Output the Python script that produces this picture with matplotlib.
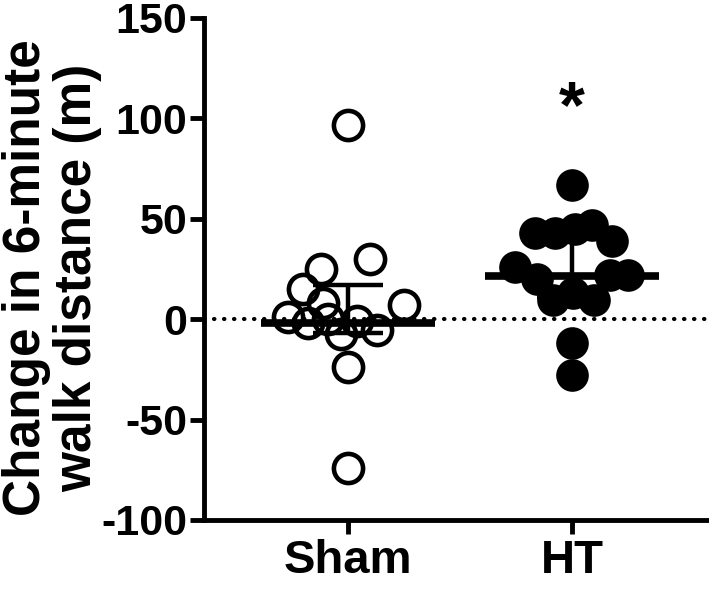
import numpy as np
import matplotlib
matplotlib.use('Agg')
import matplotlib.pyplot as plt

plt.rcParams['font.family'] = ['Liberation Sans', 'DejaVu Sans']
plt.rcParams['font.weight'] = 'bold'

groups = ['Sham', 'HT']

# values, with horizontal jitter (category units)
sham_vals = [96.6, 30, 25, 15, 8, 7, 1, -2, 0, -7.5, -1, -5.5, -24, -74]
sham_jit = [0, 0.10, -0.12, -0.20, -0.11, 0.25, -0.27, -0.18, -0.09, -0.03, 0.04, 0.13, 0, 0]

ht_vals = [67, 43, 43, 45, 47, 39, 26, 20, 22, 22, 9.5, 13, 9.5, -12, -28]
ht_jit = [0, -0.165, -0.075, 0.015, 0.09, 0.18, -0.255, -0.155, 0.17, 0.25, -0.085, 0.005, 0.10, 0, 0]

# median and interquartile range
medians = [-2, 21.5]
q1 = [-7, 11]
q3 = [17, 44]

yticks = [-100, -50, 0, 50, 100, 150]

fig = plt.figure(figsize=(7.09, 5.97), dpi=100)
ax = fig.add_axes([0.2877, 0.129, 0.7123, 0.8409])

ax.axhline(0, color='black', lw=3, ls=(0, (0.1, 2.3)), dash_capstyle='round', zorder=1)

ax.plot(np.zeros(len(sham_vals)) + sham_jit, sham_vals, 'o', ms=21, mew=3.3,
        mfc='none', mec='black', zorder=3)
ax.plot(np.ones(len(ht_vals)) + ht_jit, ht_vals, 'o', ms=23.5, mew=0,
        mfc='black', zorder=3)

for i in range(2):
    ax.hlines(medians[i], i - 0.39, i + 0.39, color='black', lw=5.5, zorder=4)
    ax.vlines(i, q1[i], q3[i], color='black', lw=3.2, zorder=4)
    ax.hlines([q1[i], q3[i]], i - 0.155, i + 0.155, color='black', lw=3.2, zorder=4)

ax.text(1, 104, '*', ha='center', va='center', fontsize=48, fontweight='bold')

ax.set_xlim(-0.643, 1.612)
ax.set_ylim(-100, 150)
ax.set_yticks(yticks)
ax.set_yticklabels([str(t) for t in yticks])
ax.set_xticks([0, 1])
ax.set_xticklabels(groups)

for s in ['top', 'right']:
    ax.spines[s].set_visible(False)
for s in ['left', 'bottom']:
    ax.spines[s].set_linewidth(3.5)

ax.tick_params(axis='y', length=10, width=3.5, labelsize=31, pad=2)
ax.tick_params(axis='x', length=10, width=3.5, labelsize=34, pad=4)

# y label placed by hand so it sits against the left edge like the original
fig.text(0.003, 0.535, 'Change in 6-minute\nwalk distance (m)', rotation=90,
         ha='left', va='center', multialignment='center', fontsize=37,
         fontweight='bold', linespacing=1.05)

fig.savefig('out.png', dpi=100)
